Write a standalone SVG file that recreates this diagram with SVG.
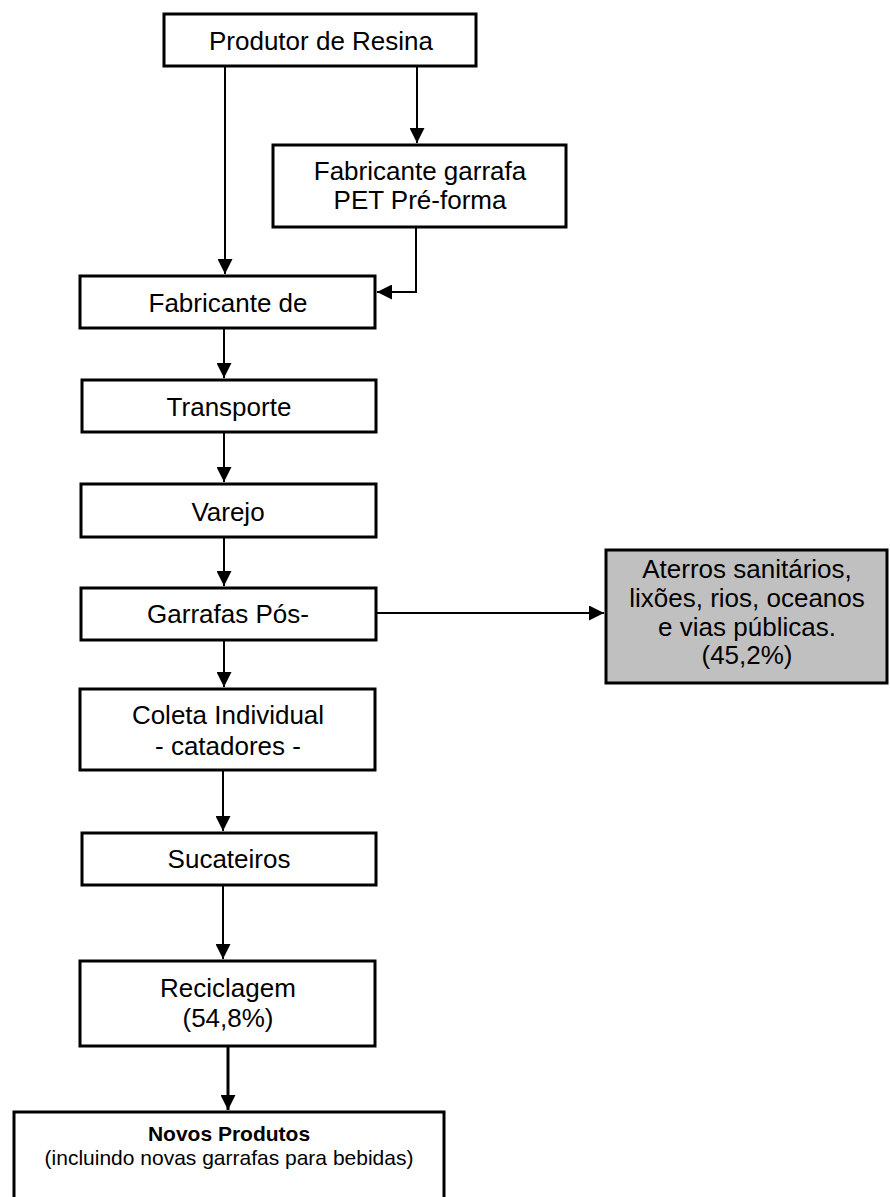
<svg xmlns="http://www.w3.org/2000/svg" width="890" height="1197" viewBox="0 0 890 1197">
  <defs>
    <style>
      .box { fill: #ffffff; stroke: #000000; stroke-width: 3; }
      .grey { fill: #c0c0c0; }
      .lbl { font-family: "Liberation Sans", Arial, sans-serif; font-size: 26px; fill: #000000; text-anchor: middle; }
      .sm { font-size: 21px; }
      .b { font-weight: bold; }
      .wire { fill: none; stroke: #000000; stroke-width: 2; marker-end: url(#tip); }
      .thick { stroke-width: 3; }
    </style>
    <marker id="tip" markerUnits="userSpaceOnUse" markerWidth="15" markerHeight="15" refX="15" refY="7.5" orient="auto">
      <path d="M0,0 L15,7.5 L0,15 z" fill="#000000"/>
    </marker>
  </defs>

  <rect width="890" height="1197" fill="#ffffff"/>

  <!-- flow connectors -->
  <g id="connectors">
    <path class="wire" d="M225,66 V274"/>
    <path class="wire" d="M417,66 V143"/>
    <path class="wire" d="M416,227 V292 H377"/>
    <path class="wire" d="M224,328 V378"/>
    <path class="wire" d="M224,432 V482"/>
    <path class="wire" d="M224,537 V586"/>
    <path class="wire" d="M377,613 H604"/>
    <path class="wire" d="M224,640 V687"/>
    <path class="wire" d="M223,770 V831"/>
    <path class="wire" d="M223,885 V959"/>
    <path class="wire thick" d="M228,1046 V1110"/>
  </g>

  <g id="produtor">
    <rect class="box" x="164" y="14" width="312" height="52"/>
    <text class="lbl" x="321" y="50">Produtor de Resina</text>
  </g>

  <g id="fabricante-garrafa">
    <rect class="box" x="273" y="145" width="293" height="82"/>
    <text class="lbl" x="420" y="180">Fabricante garrafa</text>
    <text class="lbl" x="420" y="209">PET Pré-forma</text>
  </g>

  <g id="fabricante">
    <rect class="box" x="80" y="276" width="295" height="52"/>
    <text class="lbl" x="228" y="312">Fabricante de</text>
  </g>

  <g id="transporte">
    <rect class="box" x="82" y="380" width="294" height="52"/>
    <text class="lbl" x="229" y="416">Transporte</text>
  </g>

  <g id="varejo">
    <rect class="box" x="81" y="484" width="295" height="53"/>
    <text class="lbl" x="228" y="521">Varejo</text>
  </g>

  <g id="garrafas-pos">
    <rect class="box" x="81" y="588" width="295" height="52"/>
    <text class="lbl" x="228" y="623">Garrafas Pós-</text>
  </g>

  <g id="aterros">
    <rect class="box grey" x="606" y="550" width="281" height="133"/>
    <text class="lbl" x="747" y="578">Aterros sanitários,</text>
    <text class="lbl" x="747" y="607">lixões, rios, oceanos</text>
    <text class="lbl" x="747" y="636">e vias públicas.</text>
    <text class="lbl" x="747" y="664">(45,2%)</text>
  </g>

  <g id="coleta">
    <rect class="box" x="80" y="689" width="295" height="81"/>
    <text class="lbl" x="228" y="724">Coleta Individual</text>
    <text class="lbl" x="228" y="755">- catadores -</text>
  </g>

  <g id="sucateiros">
    <rect class="box" x="82" y="833" width="294" height="52"/>
    <text class="lbl" x="229" y="868">Sucateiros</text>
  </g>

  <g id="reciclagem">
    <rect class="box" x="80" y="961" width="295" height="85"/>
    <text class="lbl" x="228" y="997">Reciclagem</text>
    <text class="lbl" x="228" y="1027">(54,8%)</text>
  </g>

  <g id="novos-produtos">
    <rect class="box" x="14" y="1112" width="430" height="100"/>
    <text class="lbl sm b" x="229" y="1141">Novos Produtos</text>
    <text class="lbl sm" x="229" y="1165">(incluindo novas garrafas para bebidas)</text>
  </g>
</svg>
